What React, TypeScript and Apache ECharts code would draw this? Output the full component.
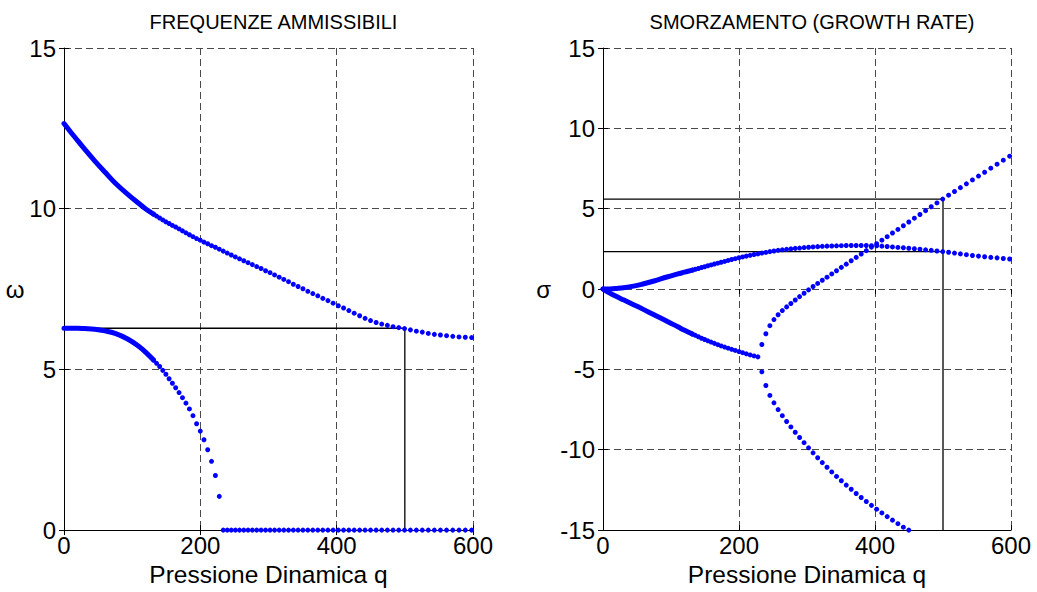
import React, { useEffect, useRef } from "react";
import * as echarts from "echarts";

// Dense start of each branch (drawn as a continuous thick trace)
const Q_DENSE = [0, 10, 20, 30, 45, 60, 75, 94, 110, 120, 131.4];
const OMEGA1_DENSE = [12.65, 12.38, 12.12, 11.86, 11.49, 11.14, 10.8, 10.44, 10.16, 9.99, 9.83];
const OMEGA2_DENSE = [6.28, 6.28, 6.28, 6.27, 6.25, 6.2, 6.12, 5.94, 5.71, 5.53, 5.29];
const SIGMA1_DENSE = [0, 0.01, 0.04, 0.08, 0.18, 0.33, 0.5, 0.75, 0.94, 1.05, 1.18];
const SIGMA2_DENSE = [0, -0.25, -0.47, -0.67, -0.97, -1.28, -1.6, -2.0, -2.35, -2.57, -2.8];

// Dynamic pressure steps where the separate dots are drawn
const Q = [
  131.4, 135.8, 140.3, 144.9, 149.5, 154.2, 159.0, 163.8, 168.8, 173.8,
  178.9, 184.0, 189.2, 194.5, 199.9, 205.3, 210.8, 216.4, 222.1, 227.8,
  233.6, 239.5, 245.4, 251.4, 257.5, 263.7, 270.0, 276.3, 282.7, 289.1,
  295.7, 302.3, 308.9, 315.7, 322.5, 329.4, 336.4, 343.4, 350.5, 357.7,
  365.0, 372.3, 379.7, 387.2, 394.8, 402.4, 410.1, 417.9, 425.7, 433.7,
  441.7, 449.7, 457.9, 466.1, 474.4, 482.7, 491.1, 499.6, 508.2, 516.9,
  525.6, 534.4, 543.3, 552.2, 561.2, 570.3, 579.5, 588.7, 598.0,
];

// Frequencies (start at Q[0])
const OMEGA1 = [
  9.83, 9.77, 9.71, 9.65, 9.59, 9.54, 9.48, 9.43, 9.37, 9.31,
  9.25, 9.19, 9.13, 9.07, 9.02, 8.96, 8.91, 8.85, 8.8, 8.74,
  8.68, 8.62, 8.56, 8.5, 8.44, 8.38, 8.32, 8.26, 8.2, 8.14,
  8.07, 8.01, 7.94, 7.87, 7.8, 7.73, 7.65, 7.58, 7.51, 7.43,
  7.36, 7.29, 7.21, 7.14, 7.06, 6.98, 6.91, 6.83, 6.75, 6.67,
  6.59, 6.52, 6.46, 6.41, 6.37, 6.33, 6.3, 6.27, 6.23, 6.19,
  6.16, 6.12, 6.09, 6.07, 6.05, 6.03, 6.01, 6.0, 5.99,
];
const OMEGA2 = [
  5.29, 5.19, 5.09, 4.97, 4.85, 4.71, 4.57, 4.43, 4.28, 4.12,
  3.95, 3.77, 3.56, 3.31, 3.08, 2.81, 2.5, 2.14, 1.7, 1.05,
];
// Zero frequency after divergence (start at Q[20])
const OMEGA_DIV = [
  0, 0, 0, 0, 0, 0, 0, 0, 0, 0,
  0, 0, 0, 0, 0, 0, 0, 0, 0, 0,
  0, 0, 0, 0, 0, 0, 0, 0, 0, 0,
  0, 0, 0, 0, 0, 0, 0, 0, 0, 0,
  0, 0, 0, 0, 0, 0, 0, 0, 0,
];

// Growth rates
const SIGMA1 = [
  1.18, 1.23, 1.28, 1.34, 1.39, 1.45, 1.5, 1.56, 1.61, 1.67,
  1.72, 1.78, 1.84, 1.89, 1.95, 2.0, 2.05, 2.1, 2.15, 2.19,
  2.24, 2.28, 2.33, 2.37, 2.41, 2.44, 2.47, 2.5, 2.53, 2.55,
  2.58, 2.6, 2.62, 2.64, 2.66, 2.67, 2.68, 2.69, 2.7, 2.71,
  2.71, 2.71, 2.71, 2.71, 2.7, 2.69, 2.67, 2.65, 2.62, 2.59,
  2.57, 2.54, 2.51, 2.48, 2.44, 2.41, 2.37, 2.33, 2.29, 2.24,
  2.19, 2.14, 2.09, 2.05, 2.01, 1.97, 1.94, 1.9, 1.87,
];
const SIGMA2 = [
  -2.8, -2.88, -2.97, -3.06, -3.14, -3.22, -3.3, -3.38, -3.46, -3.54,
  -3.61, -3.68, -3.75, -3.82, -3.89, -3.96, -4.03, -4.1, -4.16, -4.22,
];
// After divergence (start at Q[20])
const SIGMA3 = [
  -3.45, -2.78, -2.28, -1.9, -1.6, -1.34, -1.11, -0.9, -0.68, -0.47,
  -0.26, -0.05, 0.16, 0.35, 0.55, 0.74, 0.94, 1.14, 1.35, 1.55,
  1.76, 1.97, 2.18, 2.39, 2.61, 2.82, 3.04, 3.26, 3.49, 3.71,
  3.94, 4.17, 4.41, 4.64, 4.88, 5.12, 5.36, 5.6, 5.84, 6.07,
  6.31, 6.55, 6.79, 7.03, 7.27, 7.52, 7.77, 8.02, 8.27,
];
const SIGMA4 = [
  -5.15, -6.0, -6.62, -7.08, -7.5, -7.88, -8.24, -8.58, -8.91, -9.24,
  -9.56, -9.88, -10.19, -10.5, -10.8, -11.09, -11.38, -11.66, -11.93, -12.2,
  -12.46, -12.72, -12.97, -13.22, -13.46, -13.7, -13.93, -14.16, -14.38, -14.6,
  -14.82, -15.0,
];

// Flutter markers
const FLUTTER_Q = 500;
const FLUTTER_OMEGA = 6.28;
const FLUTTER_SIGMA_HI = 5.6;
const FLUTTER_SIGMA_LO = 2.33;

const X_RANGE = [0, 600];
const OMEGA_RANGE = [0, 15];
const SIGMA_RANGE = [-15, 15];

const TITLES = ["FREQUENZE AMMISSIBILI", "SMORZAMENTO (GROWTH RATE)"];
const X_NAME = "Pressione Dinamica q";
const Y_NAMES = ["ω", "σ"];

const FONT = "'Liberation Sans', Arial, Helvetica, sans-serif";
const BLUE = "#0000ff";
const TICK_FONT = 24;

function pairs(vals: number[], start: number) {
  return vals.map((v, i) => [Q[start + i], v]);
}
function densePairs(vals: number[]) {
  return vals.map((v, i) => [Q_DENSE[i], v]);
}

export default function App() {
  const ref = useRef<HTMLDivElement>(null);
  useEffect(() => {
    if (!ref.current) return;
    const chart = echarts.init(ref.current, undefined, { renderer: "svg" });

    const grids = [
      { left: 64, top: 48, width: 409, height: 485 },
      { left: 603, top: 48, width: 408, height: 485 },
    ];
    const gridDash = { color: "#4a4a4a", width: 1, type: [7, 4] as number[] };

    const bottomX = (gi: number) => ({
      type: "value",
      gridIndex: gi,
      min: X_RANGE[0],
      max: X_RANGE[1],
      interval: 200,
      position: "bottom",
      name: X_NAME,
      nameLocation: "middle",
      nameGap: 15,
      nameTextStyle: { fontFamily: FONT, fontSize: 24.5, color: "#000" },
      axisLine: { show: true, onZero: false, lineStyle: { color: "#000", width: 1 } },
      axisTick: { show: true, inside: true, length: 5, lineStyle: { color: "#000" } },
      axisLabel: { fontFamily: FONT, fontSize: TICK_FONT, color: "#000", margin: 3 },
      splitLine: { show: true, lineStyle: gridDash },
    });
    const topX = (gi: number) => ({
      type: "value",
      gridIndex: gi,
      min: X_RANGE[0],
      max: X_RANGE[1],
      interval: 200,
      position: "top",
      axisLine: { show: false },
      axisTick: { show: true, inside: true, length: 5, lineStyle: { color: "#000" } },
      axisLabel: { show: false },
      splitLine: { show: false },
    });
    const leftY = (gi: number, range: number[], name: string, gap: number) => ({
      type: "value",
      gridIndex: gi,
      min: range[0],
      max: range[1],
      interval: 5,
      position: "left",
      name,
      nameLocation: "middle",
      nameGap: gap,
      nameRotate: 0,
      nameTextStyle: { fontFamily: FONT, fontSize: TICK_FONT, color: "#000" },
      axisLine: { show: true, onZero: false, lineStyle: { color: "#000", width: 1 } },
      axisTick: { show: true, inside: true, length: 5, lineStyle: { color: "#000" } },
      axisLabel: { fontFamily: FONT, fontSize: TICK_FONT, color: "#000", margin: 8 },
      splitLine: { show: true, lineStyle: gridDash },
    });
    const rightY = (gi: number, range: number[]) => ({
      type: "value",
      gridIndex: gi,
      min: range[0],
      max: range[1],
      interval: 5,
      position: "right",
      axisLine: { show: false },
      axisTick: { show: true, inside: true, length: 5, lineStyle: { color: "#000" } },
      axisLabel: { show: false },
      splitLine: { show: false },
    });

    const dots = (data: number[][], xi: number, yi: number) => ({
      type: "scatter",
      xAxisIndex: xi,
      yAxisIndex: yi,
      data,
      symbol: "circle",
      symbolSize: 5,
      itemStyle: { color: BLUE, opacity: 1 },
      z: 3,
    });
    const thick = (data: number[][], xi: number, yi: number) => ({
      type: "line",
      xAxisIndex: xi,
      yAxisIndex: yi,
      data,
      smooth: 0.4,
      showSymbol: false,
      lineStyle: { color: BLUE, width: 5, cap: "round", join: "round" },
      z: 3,
    });
    const blackLine = (data: number[][], xi: number, yi: number) => ({
      type: "line",
      xAxisIndex: xi,
      yAxisIndex: yi,
      data,
      showSymbol: false,
      lineStyle: { color: "#000", width: 1.3 },
      z: 2,
    });

    chart.setOption({
      animation: false,
      backgroundColor: "#fff",
      title: [
        {
          text: TITLES[0],
          left: 268.5,
          top: 7,
          textAlign: "center",
          textStyle: { fontFamily: FONT, fontSize: 20, fontWeight: "normal", color: "#000" },
        },
        {
          text: TITLES[1],
          left: 807,
          top: 7,
          textAlign: "center",
          textStyle: { fontFamily: FONT, fontSize: 20, fontWeight: "normal", color: "#000" },
        },
      ],
      grid: grids,
      xAxis: [bottomX(0), bottomX(1), topX(0), topX(1)],
      yAxis: [
        leftY(0, OMEGA_RANGE, Y_NAMES[0], 35),
        leftY(1, SIGMA_RANGE, Y_NAMES[1], 52),
        rightY(0, OMEGA_RANGE),
        rightY(1, SIGMA_RANGE),
      ],
      series: [
        blackLine(
          [
            [X_RANGE[0], FLUTTER_OMEGA],
            [FLUTTER_Q, FLUTTER_OMEGA],
            [FLUTTER_Q, OMEGA_RANGE[0]],
          ],
          0,
          0
        ),
        thick(densePairs(OMEGA1_DENSE), 0, 0),
        thick(densePairs(OMEGA2_DENSE), 0, 0),
        dots(pairs(OMEGA1, 0), 0, 0),
        dots(pairs(OMEGA2, 0), 0, 0),
        dots(pairs(OMEGA_DIV, 20), 0, 0),

        blackLine(
          [
            [X_RANGE[0], FLUTTER_SIGMA_HI],
            [FLUTTER_Q, FLUTTER_SIGMA_HI],
            [FLUTTER_Q, SIGMA_RANGE[0]],
          ],
          1,
          1
        ),
        blackLine(
          [
            [X_RANGE[0], FLUTTER_SIGMA_LO],
            [FLUTTER_Q, FLUTTER_SIGMA_LO],
          ],
          1,
          1
        ),
        thick(densePairs(SIGMA1_DENSE), 1, 1),
        thick(densePairs(SIGMA2_DENSE), 1, 1),
        dots(pairs(SIGMA1, 0), 1, 1),
        dots(pairs(SIGMA2, 0), 1, 1),
        dots(pairs(SIGMA3, 20), 1, 1),
        dots(pairs(SIGMA4, 20), 1, 1),
      ],
    });
    return () => chart.dispose();
  }, []);

  return (
    <div
      ref={ref}
      style={{ position: "fixed", left: 0, top: 0, width: 1037, height: 592, background: "#fff" }}
    />
  );
}
